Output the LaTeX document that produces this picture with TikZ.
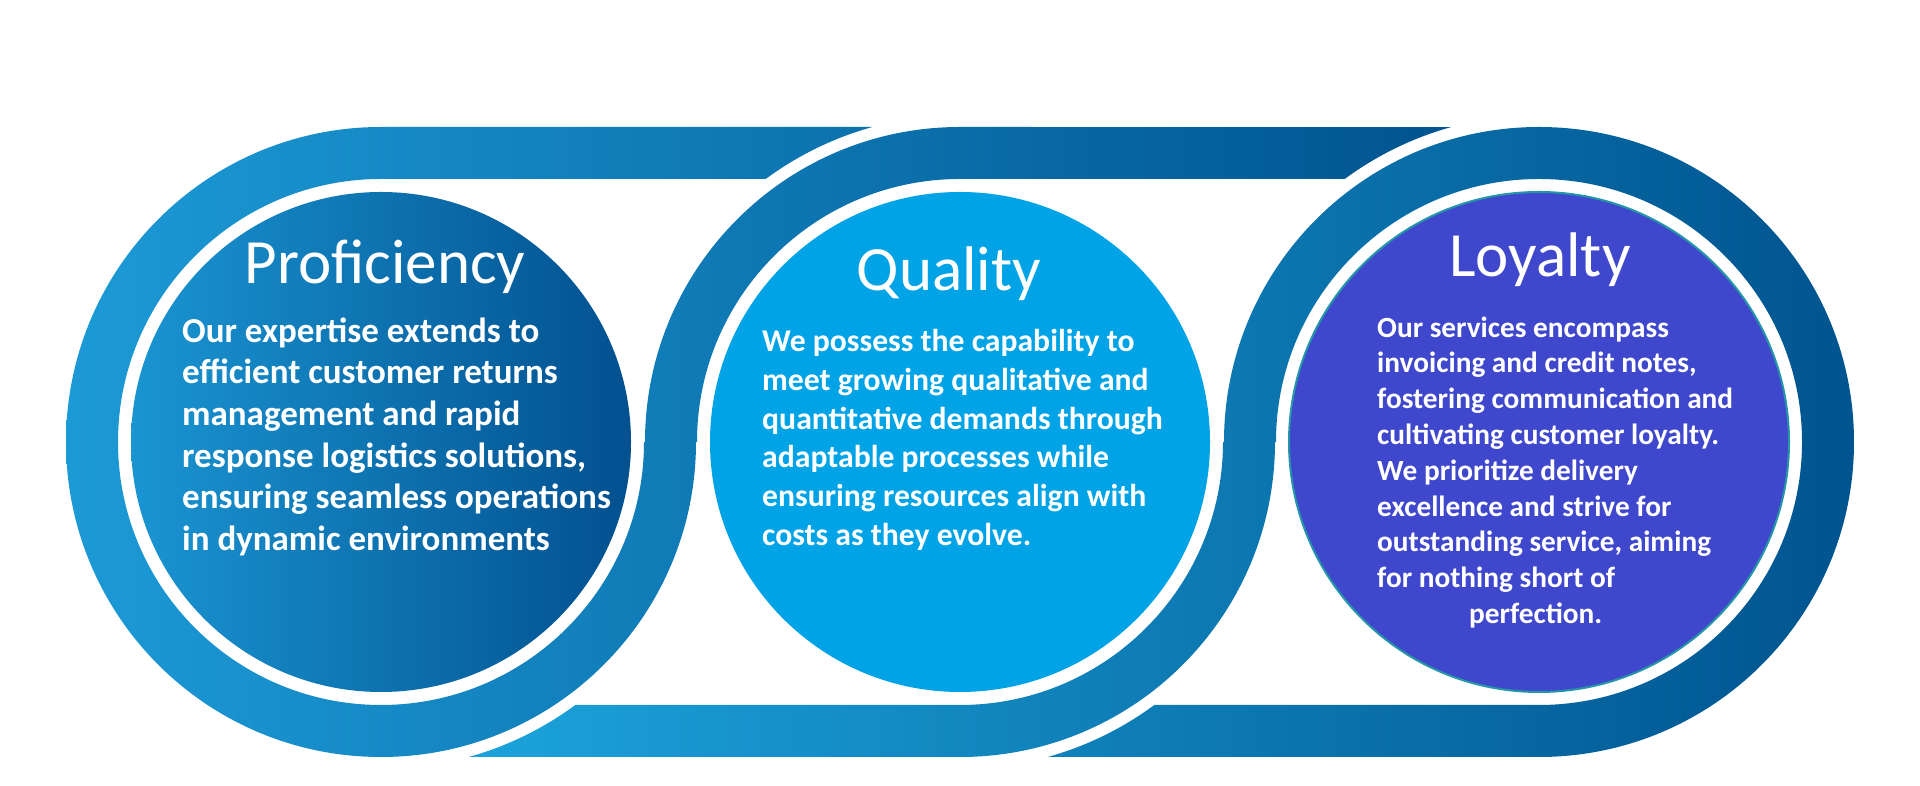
\documentclass[tikz,border=0pt]{standalone}
\usepackage{fontspec}
\setmainfont{Carlito}
\usepackage{xcolor}
\definecolor{bandlight}{HTML}{1C9AD6}
\definecolor{bandlightb}{HTML}{1CA3DB}
\definecolor{banddark}{HTML}{00548F}
\definecolor{profleft}{HTML}{1A95D2}
\definecolor{profright}{HTML}{02508F}
\definecolor{qualityblue}{HTML}{00A3E5}
\definecolor{loyaltyblue}{HTML}{3F48CC}
\definecolor{loyaltyrim}{HTML}{2496A8}

\begin{document}
\begin{tikzpicture}[x=1pt,y=1pt,
    disc/.style={circle,minimum size=500pt,inner sep=0},
    title/.style={text=white,inner sep=0,anchor=base,font=\fontsize{63}{70}\selectfont},
    body/.style={text=white,align=left,inner sep=0,anchor=north west}]
  \useasboundingbox (0,0) rectangle (1920,786);
  \fill[white] (0,0) rectangle (1920,786);
  \coordinate (c1) at (381,344);
  \coordinate (c2) at (960,344);
  \coordinate (c3) at (1539,344);

  % upper ribbon: top band, left ring, first S, second top band
  \begin{scope}
    \clip (872.1,659) -- (381,659) arc[start angle=90,end angle=360,radius=315pt]
      -- ++(1,0) arc[start angle=180,end angle=90,radius=263pt]
      -- (1344.7,607) arc[start angle=126.45,end angle=105.6,radius=327pt]
      -- (960,659) arc[start angle=90,end angle=180,radius=315pt]
      -- ++(-1,0) arc[start angle=0,end angle=-270,radius=263pt]
      -- (765.7,607) arc[start angle=126.45,end angle=105.6,radius=327pt] -- cycle;
    \shade[left color=bandlight,right color=banddark] (66,0) rectangle (1452,786);
  \end{scope}

  % lower ribbon: bottom band, second S, right ring, bottom band
  \begin{scope}
    \clip (468.9,29) -- (960,29) arc[start angle=-90,end angle=0,radius=315pt]
      -- ++(1,0) arc[start angle=180,end angle=-90,radius=263pt]
      -- (1154.3,81) arc[start angle=-53.55,end angle=-74.4,radius=327pt]
      -- (1539,29) arc[start angle=-90,end angle=180,radius=315pt]
      -- ++(-1,0) arc[start angle=0,end angle=-90,radius=263pt]
      -- (575.3,81) arc[start angle=-53.55,end angle=-74.4,radius=327pt] -- cycle;
    \shade[left color=bandlightb,right color=banddark] (469,0) rectangle (1854,786);
  \end{scope}

  \node[disc,left color=profleft,right color=profright] (prof) at (c1) {};
  \node[disc,fill=qualityblue] (qual) at (c2) {};
  \node[disc,fill=loyaltyblue,draw=loyaltyrim,line width=2pt] (loyal) at (c3) {};

  \node[title] (proftitle) at (385,502) {Proficiency};
  \node[title] (qualtitle) at (949,495) {Quality};
  \node[title] (loyaltitle) at (1540,509) {Loyalty};

  \node[body,font=\fontsize{35}{41.7}\selectfont\bfseries] (proftext) at (182,474)
    {\rule{0pt}{30pt}Our expertise extends to\\
     efficient customer returns\\
     management and rapid\\
     response logistics solutions,\\
     ensuring seamless operations\\
     in dynamic environments};
  \node[body,font=\fontsize{31.7}{38.7}\selectfont\bfseries] (qualtext) at (762,462.5)
    {\rule{0pt}{28pt}We possess the capability to\\
     meet growing qualitative and\\
     quantitative demands through\\
     adaptable processes while\\
     ensuring resources align with\\
     costs as they evolve.};
  \node[body,font=\fontsize{29.3}{35.8}\selectfont\bfseries] (loyaltext) at (1377,475)
    {\rule{0pt}{26pt}Our services encompass\\
     invoicing and credit notes,\\
     fostering communication and\\
     cultivating customer loyalty.\\
     We prioritize delivery\\
     excellence and strive for\\
     outstanding service, aiming\\
     for nothing short of\\
     \hspace*{92pt}perfection.};
\end{tikzpicture}
\end{document}
